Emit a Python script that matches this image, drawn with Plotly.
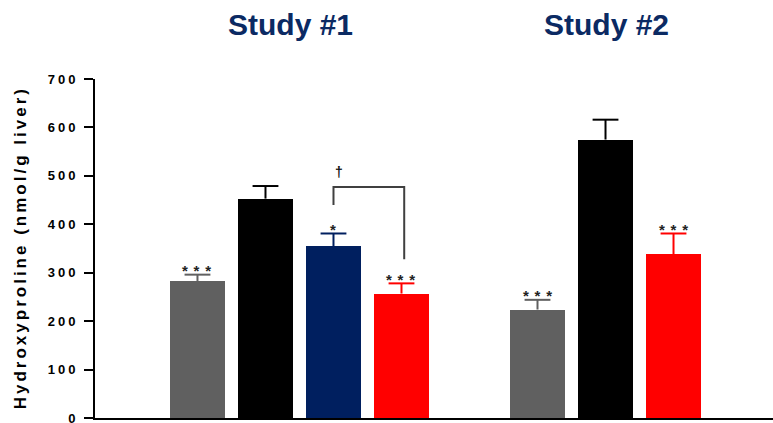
import plotly.graph_objects as go

# Bar groups (one colour per treatment arm)
arm_names = ["Arm A", "Arm B", "Arm C", "Arm D"]
arm_colors = ["#606060", "#000000", "#001f5f", "#ff0000"]

# Study #1: four arms, Study #2: three arms (no Arm C)
study1_arms = ["Arm A", "Arm B", "Arm C", "Arm D"]
study1_means = [283, 453, 355, 257]
study1_sem = [13, 26, 26, 21]
study1_sig = ["***", "", "*", "***"]

study2_arms = ["Arm A", "Arm B", "Arm D"]
study2_means = [224, 575, 338]
study2_sem = [20, 41, 43]
study2_sig = ["***", "", "***"]

study_titles = ["Study #1", "Study #2"]

y_ticks = [0, 100, 200, 300, 400, 500, 600, 700]
y_title = "Hydroxyproline (nmol/g liver)"

# Bracket between Arm C and Arm D of Study #1 (y levels in nmol/g)
bracket_left_level = 440
bracket_top_level = 477
bracket_right_level = 328
bracket_mark = "†"

# slot positions on the x axis
study1_x = [0, 1, 2, 3]
study2_x = [5, 6, 7]
bar_width = 0.81
cap_half = 0.19  # half-width of the error-bar caps, in slot units

studies = [
    (study1_arms, study1_x, study1_means, study1_sem, study1_sig),
    (study2_arms, study2_x, study2_means, study2_sem, study2_sig),
]

fig = go.Figure()

for name, color in zip(arm_names, arm_colors):
    xs, ys, es = [], [], []
    for arms, pos, means, sems, _ in studies:
        for a, p, m, s in zip(arms, pos, means, sems):
            if a == name:
                xs.append(p)
                ys.append(m)
                es.append(s)
    fig.add_trace(go.Bar(
        x=xs, y=ys, width=bar_width, name=name,
        marker=dict(color=color, line=dict(width=0)),
        showlegend=False,
    ))
    # upward-only error bars: stem from the bar top plus a cap
    ex, ey = [], []
    for p, m, s in zip(xs, ys, es):
        ex += [p, p, None, p - cap_half, p + cap_half, None]
        ey += [m, m + s, None, m + s, m + s, None]
    fig.add_trace(go.Scatter(
        x=ex, y=ey, mode="lines", line=dict(color=color, width=2),
        showlegend=False, hoverinfo="skip",
    ))

# significance stars above the error bars
star_font = dict(family="Arial, Liberation Sans", size=15, color="#222222", weight="bold")
for arms, pos, means, sems, sigs in studies:
    for p, m, s, g in zip(pos, means, sems, sigs):
        if not g:
            continue
        txt = " ".join(g)
        fig.add_annotation(
            x=p, y=m + s, xref="x", yref="y", showarrow=False,
            text=f"<span style='letter-spacing:0.8px'>{txt}</span>",
            font=star_font, yanchor="bottom", xanchor="center", yshift=-6.5,
        )

# bracket comparing Arm C vs Arm D in Study #1
bx_left = study1_x[study1_arms.index("Arm C")]
bx_right = study1_x[study1_arms.index("Arm D")] + 0.04
fig.add_trace(go.Scatter(
    x=[bx_left, bx_left, bx_right, bx_right],
    y=[bracket_left_level, bracket_top_level, bracket_top_level, bracket_right_level],
    mode="lines", line=dict(color="#404040", width=2),
    showlegend=False, hoverinfo="skip",
))
fig.add_annotation(
    x=bx_left + 0.08, y=bracket_top_level + 32, xref="x", yref="y",
    showarrow=False, text=bracket_mark,
    font=dict(family="Arial, Liberation Sans", size=14, color="#111111", weight="bold"),
    xanchor="center", yanchor="middle",
)

# study headings
title_font = dict(family="Arial, Liberation Sans", size=30, color="#0b2a63", weight="bold")
for title, xc in zip(study_titles, [1.375, 6.02]):
    fig.add_annotation(
        x=xc, y=1.16, xref="x", yref="paper", showarrow=False,
        text=title, font=title_font, xanchor="center", yanchor="middle",
    )

# rotated y-axis title
fig.add_annotation(
    x=-0.11, y=0.502, xref="paper", yref="paper", showarrow=False,
    text=f"<span style='letter-spacing:3px'>{y_title}</span>",
    textangle=-90,
    font=dict(family="Arial, Liberation Sans", size=17, color="#000000", weight="bold"),
    xanchor="center", yanchor="middle",
)

fig.update_layout(
    width=773, height=423,
    margin=dict(l=95, r=0, t=79, b=5, autoexpand=False),
    paper_bgcolor="white", plot_bgcolor="white",
    bargap=0,
    xaxis=dict(
        range=[-1.507, 8.463], showgrid=False, zeroline=False,
        showticklabels=False, ticks="", showline=True,
        linecolor="black", linewidth=2, fixedrange=True, automargin=False,
    ),
    yaxis=dict(
        range=[0, 700], showgrid=False, zeroline=False,
        tickmode="array", tickvals=y_ticks,
        ticktext=[f"<span style='letter-spacing:3px'>{v}</span>" for v in y_ticks],
        ticks="outside", ticklen=9, tickwidth=2, tickcolor="black",
        showline=True, linecolor="black", linewidth=2,
        tickfont=dict(family="Arial, Liberation Sans", size=13, color="black", weight="bold"),
        ticklabelstandoff=3, ticklabeloverflow="allow",
        fixedrange=True, automargin=False,
    ),
)

fig.write_html("out.html")
